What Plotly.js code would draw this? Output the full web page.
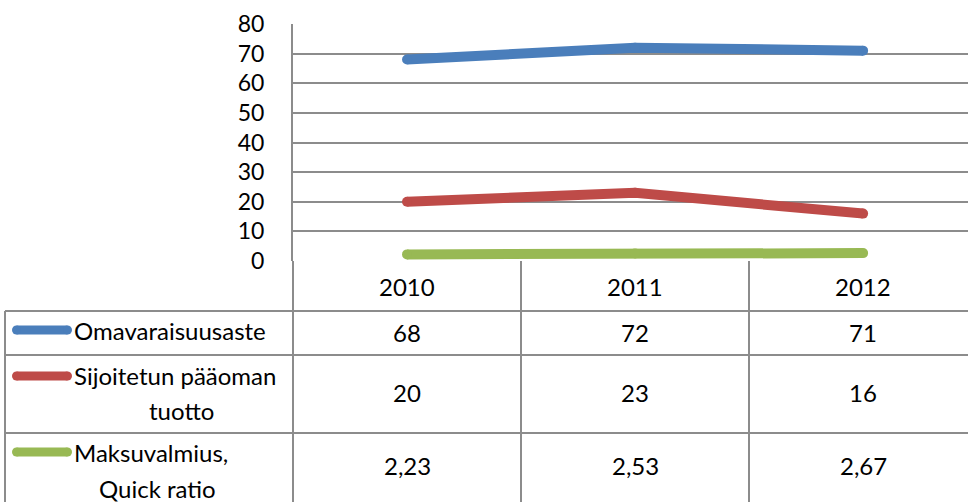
<!DOCTYPE html>
<html>
<head>
<meta charset="utf-8">
<script src="https://cdn.plot.ly/plotly-3.0.1.min.js"></script>
<style>
  body { margin: 0; background: #fff; }
  #chart { width: 968px; height: 502px; }
</style>
</head>
<body>
<div id="chart"></div>
<script>
// tunnusluvut 2010-2012
const years = ["2010", "2011", "2012"];
const omavaraisuus = [68, 72, 71];
const sijoitettu = [20, 23, 16];
const maksuvalmius = [2.23, 2.53, 2.67];
const seriesNames = [["Omavaraisuusaste"], ["Sijoitetun pääoman", "tuotto"], ["Maksuvalmius,", "Quick ratio"]];
const colors = ["#4A7EBB", "#BE4B48", "#98B954"];
const allSeries = [omavaraisuus, sijoitettu, maksuvalmius];

const W = 968, H = 502;
const L = 293, T = 24, B = 261;
const gray = "#8c8c8c";
const font = "Lato, 'Open Sans', sans-serif";

// pikselit -> paper
function px(x) { return (x - L) / (W - L); }
function py(y) { return (B - y) / (B - T); }
function fmt(v) { return String(v).replace(".", ","); }

let data = allSeries.map((vals, i) => ({
  x: years,
  y: vals,
  type: "scatter",
  mode: "lines+markers",
  line: {color: colors[i], width: 10},
  marker: {color: colors[i], size: 10, line: {width: 0}},
  hoverinfo: "skip"
}));

// taulukon rivit (pikseleinä)
const rowTop = [311, 355, 433, 502];
const keyY = [330, 376, 452];

let shapes = [];
// vaakaviivat
rowTop.slice(0, 3).forEach(y => {
  shapes.push({type: "line", xref: "paper", yref: "paper", x0: px(5), x1: px(W), y0: py(y), y1: py(y),
    line: {color: gray, width: 2}});
});
// pystyviivat
shapes.push({type: "line", xref: "paper", yref: "paper", x0: px(5), x1: px(5), y0: py(311), y1: py(H),
  line: {color: gray, width: 2}});
[L, 521, 749].forEach(x => {
  shapes.push({type: "line", xref: "paper", yref: "paper", x0: px(x), x1: px(x), y0: py(B), y1: py(H),
    line: {color: gray, width: 2}});
});
// selitteen viivat, pyöreät päät
keyY.forEach((y, i) => {
  shapes.push({type: "line", xref: "paper", yref: "paper", x0: px(16.5), x1: px(67.5), y0: py(y), y1: py(y),
    line: {color: colors[i], width: 9}});
  [16.5, 67.5].forEach(cx => {
    shapes.push({type: "circle", xref: "paper", yref: "paper", xsizemode: "pixel", ysizemode: "pixel",
      xanchor: px(cx), yanchor: py(y), x0: -4.5, x1: 4.5, y0: -4.5, y1: 4.5,
      fillcolor: colors[i], line: {width: 0}});
  });
});

let annotations = [];
const txt = {family: font, size: 24, color: "#000"};
years.forEach((yr, j) => {
  annotations.push({x: j, xref: "x", y: py(286), yref: "paper", yanchor: "middle", text: yr, showarrow: false, font: txt});
});
const rowMid = [332, 393, 466];
allSeries.forEach((vals, i) => {
  vals.forEach((v, j) => {
    annotations.push({x: j, xref: "x", y: py(rowMid[i]), yref: "paper", yanchor: "middle",
      text: fmt(v), showarrow: false, font: txt});
  });
});
const line1Y = [330, 375, 452];
const line2Y = [null, 410, 488];
const line2X = [null, 181, 157];
seriesNames.forEach((lines, i) => {
  annotations.push({x: px(72), xref: "paper", xanchor: "left", y: py(line1Y[i]), yref: "paper", yanchor: "middle",
    text: lines[0], showarrow: false, font: txt});
  if (lines[1]) {
    annotations.push({x: px(line2X[i]), xref: "paper", xanchor: "center", y: py(line2Y[i]), yref: "paper",
      yanchor: "middle", text: lines[1], showarrow: false, font: txt});
  }
});

let layout = {
  width: W,
  height: H,
  margin: {l: L, r: 0, t: T, b: H - B},
  paper_bgcolor: "#fff",
  plot_bgcolor: "#fff",
  showlegend: false,
  font: txt,
  xaxis: {
    type: "category",
    range: [-0.5, 2.46],
    showticklabels: false,
    showgrid: false,
    zeroline: false,
    showline: false,
    fixedrange: true
  },
  yaxis: {
    range: [0, 80],
    dtick: 10,
    showgrid: true,
    gridcolor: gray,
    gridwidth: 2,
    zeroline: false,
    showline: true,
    linecolor: gray,
    linewidth: 2,
    ticks: "",
    ticklabelstandoff: 22,
    tickfont: {family: font, size: 23, color: "#000"},
    fixedrange: true
  },
  shapes: shapes,
  annotations: annotations
};

Plotly.newPlot("chart", data, layout, {displayModeBar: false, staticPlot: true});
</script>
</body>
</html>
